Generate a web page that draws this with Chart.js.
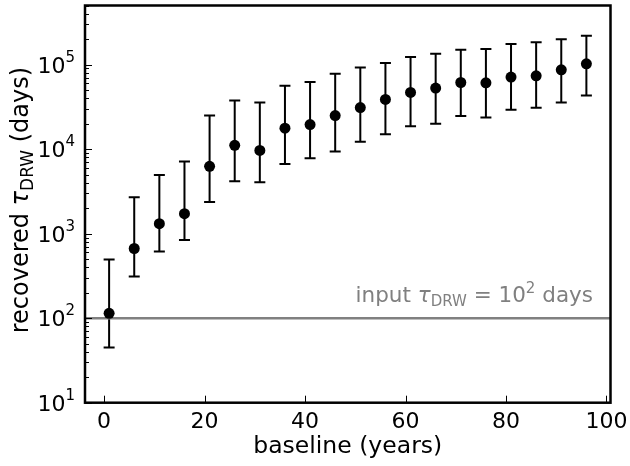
<!DOCTYPE html>
<html lang="en">
<head>
    <meta charset="UTF-8">
    <title>recovered tau DRW</title>
    <script src="https://cdn.jsdelivr.net/npm/chart.js@4.4.0/dist/chart.umd.min.js"></script>
    <style>
        html, body { margin: 0; padding: 0; background: #fff; }
    </style>
</head>
<body>
<canvas id="graphe" width="630" height="466"></canvas>
<script>
    // Donnees
    const baselines = [1, 6, 11, 16, 21, 26, 31, 36, 41, 46, 51, 56, 61, 66, 71, 76, 81, 86, 91, 96];
    const tauMedian = [114, 667, 1310, 1720, 6250, 11100, 9660, 17700, 19500, 24900, 31000, 38700, 46900, 52700, 61400, 60900, 71100, 73600, 86700, 102000];
    const tauHaut = [494, 2700, 4940, 7160, 24900, 37700, 35700, 56100, 62100, 77800, 92200, 104700, 123000, 134600, 150000, 153000, 175000, 183700, 199000, 219000];
    const tauBas = [45, 312, 614, 843, 2360, 4170, 4060, 6660, 7780, 9400, 12200, 15000, 18700, 20000, 24700, 23600, 29300, 30900, 35700, 43100];
    const tauInput = 100;

    // Graduations
    const xTicks = [0, 20, 40, 60, 80, 100];
    const yDecades = [10, 100, 1000, 10000, 100000];
    const yExposants = ['1', '2', '3', '4', '5'];

    const xMin = -3.8, xMax = 100.8;
    const yMin = 10, yMax = 5e5;

    const police = '"DejaVu Sans"';

    // Ecrit une suite de morceaux de texte (indices, exposants)
    let largeurMorceaux = (ctx, morceaux) => {
        let total = 0;
        morceaux.forEach(m => {
            ctx.font = (m.italique ? 'italic ' : '') + m.taille + 'px ' + police;
            total += ctx.measureText(m.texte).width;
        });
        return total;
    };

    let ecritMorceaux = (ctx, morceaux, x, y) => {
        ctx.textAlign = 'left';
        ctx.textBaseline = 'alphabetic';
        morceaux.forEach(m => {
            ctx.font = (m.italique ? 'italic ' : '') + m.taille + 'px ' + police;
            ctx.fillText(m.texte, x, y + (m.dy || 0));
            x += ctx.measureText(m.texte).width;
        });
    };

    const decor = {
        id: 'decor',
        // Barres d'erreur sous les points
        beforeDatasetsDraw(chart) {
            const ctx = chart.ctx;
            const xs = chart.scales.x, ys = chart.scales.y;
            ctx.save();
            ctx.strokeStyle = '#000';
            ctx.lineWidth = 2;
            baselines.forEach((b, i) => {
                const px = xs.getPixelForValue(b);
                const yh = ys.getPixelForValue(tauHaut[i]);
                const yb = ys.getPixelForValue(tauBas[i]);
                ctx.beginPath();
                ctx.moveTo(px, yh); ctx.lineTo(px, yb);
                ctx.moveTo(px - 5.5, yh); ctx.lineTo(px + 5.5, yh);
                ctx.moveTo(px - 5.5, yb); ctx.lineTo(px + 5.5, yb);
                ctx.stroke();
            });
            ctx.restore();
        },
        afterDraw(chart) {
            const ctx = chart.ctx;
            const a = chart.chartArea;
            const xs = chart.scales.x, ys = chart.scales.y;
            ctx.save();

            // Graduations vers l'interieur
            ctx.strokeStyle = '#000';
            ctx.lineWidth = 1;
            ctx.beginPath();
            xTicks.forEach(v => {
                const px = Math.round(xs.getPixelForValue(v)) + 0.5;
                ctx.moveTo(px, a.bottom); ctx.lineTo(px, a.bottom - 7);
            });
            for (let d = 10; d < yMax; d *= 10) {
                for (let k = 1; k < 10; k++) {
                    const v = d * k;
                    if (v > yMax) break;
                    const py = Math.round(ys.getPixelForValue(v)) + 0.5;
                    ctx.moveTo(a.left, py); ctx.lineTo(a.left + (k === 1 ? 7 : 4), py);
                }
            }
            ctx.stroke();

            // Cadre
            ctx.lineWidth = 2.5;
            ctx.strokeRect(a.left, a.top, a.right - a.left, a.bottom - a.top);

            // Etiquettes de l'axe y : 10^n
            ctx.fillStyle = '#000';
            yDecades.forEach((d, i) => {
                const py = ys.getPixelForValue(d);
                const morceaux = [
                    {texte: '10', taille: 22},
                    {texte: yExposants[i], taille: 15, dy: -11}
                ];
                const w = largeurMorceaux(ctx, morceaux);
                ecritMorceaux(ctx, morceaux, 75 - w, py + 8);
            });

            // Titre de l'axe y
            ctx.save();
            ctx.translate(28, (a.top + a.bottom) / 2 - 4);
            ctx.rotate(-Math.PI / 2);
            const titreY = [
                {texte: 'recovered ', taille: 24},
                {texte: 'τ', taille: 24, italique: true},
                {texte: 'DRW', taille: 17, dy: 5},
                {texte: ' (days)', taille: 24}
            ];
            ecritMorceaux(ctx, titreY, -largeurMorceaux(ctx, titreY) / 2, 0);
            ctx.restore();

            // Annotation de la valeur d'entree
            ctx.fillStyle = '#808080';
            const annot = [
                {texte: 'input ', taille: 21.5},
                {texte: 'τ', taille: 21.5, italique: true},
                {texte: 'DRW', taille: 15, dy: 4},
                {texte: ' = ', taille: 21.5},
                {texte: '10', taille: 21.5},
                {texte: '2', taille: 15, dy: -9},
                {texte: ' days', taille: 21.5}
            ];
            ecritMorceaux(ctx, annot, 593 - largeurMorceaux(ctx, annot), 302);

            ctx.restore();
        }
    };

    const points = baselines.map((b, i) => ({x: b, y: tauMedian[i]}));

    new Chart(document.getElementById('graphe').getContext('2d'), {
        type: 'scatter',
        data: {
            datasets: [{
                data: points,
                backgroundColor: '#000',
                borderWidth: 0,
                pointRadius: 5.5,
                order: 1
            }, {
                type: 'line',
                data: [{x: xMin, y: tauInput}, {x: xMax, y: tauInput}],
                borderColor: '#808080',
                borderWidth: 2.5,
                pointRadius: 0,
                order: 2
            }]
        },
        options: {
            responsive: false,
            animation: false,
            devicePixelRatio: 1,
            layout: {padding: {top: 3.8, right: 19.5, bottom: 0, left: 0}},
            plugins: {legend: {display: false}, tooltip: {enabled: false}},
            scales: {
                x: {
                    type: 'linear',
                    min: xMin,
                    max: xMax,
                    afterBuildTicks: axe => { axe.ticks = xTicks.map(v => ({value: v})); },
                    afterFit: axe => { axe.height = 466 - 402.7; axe.paddingLeft = 0; axe.paddingRight = 0; },
                    grid: {display: false, drawTicks: false},
                    border: {display: false},
                    ticks: {
                        color: '#000',
                        font: {family: police, size: 22},
                        padding: 6,
                        maxRotation: 0,
                        autoSkip: false
                    },
                    title: {
                        display: true,
                        text: 'baseline (years)',
                        color: '#000',
                        font: {family: police, size: 23.5, lineHeight: 1.2},
                        padding: {top: 0, bottom: 5}
                    }
                },
                y: {
                    type: 'logarithmic',
                    min: yMin,
                    max: yMax,
                    afterFit: axe => { axe.width = 85; axe.paddingTop = 0; axe.paddingBottom = 0; },
                    grid: {display: false, drawTicks: false},
                    border: {display: false},
                    ticks: {display: false}
                }
            }
        },
        plugins: [decor]
    });
</script>
</body>
</html>
